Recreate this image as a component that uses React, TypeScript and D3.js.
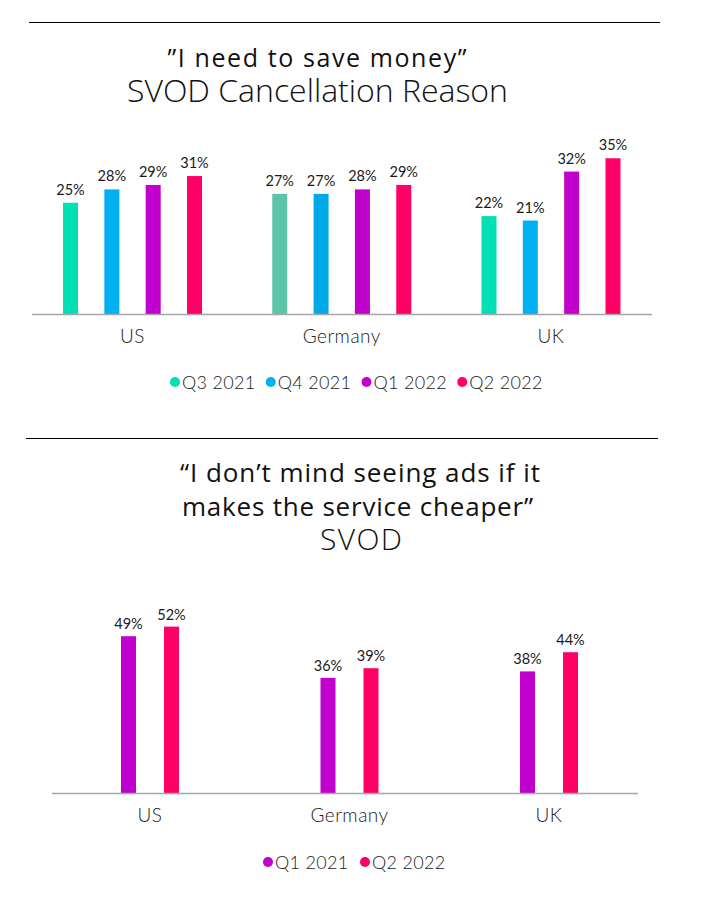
import React from "react";
import * as d3 from "d3";

const countries = ["US", "Germany", "UK"];

const topSeries = ["Q3 2021", "Q4 2021", "Q1 2022", "Q2 2022"];
const topValues: number[][] = [
  [25, 28, 29, 31], // US
  [27, 27, 28, 29], // Germany
  [22, 21, 32, 35], // UK
];
const topColors = ["#00E0B4", "#00B0F0", "#C000CC", "#FF0066"];
const colorOverrides: Record<string, string> = { "Germany|Q3 2021": "#5CC4A9", "Germany|Q4 2021": "#00AAE6" };

const bottomSeries = ["Q1 2021", "Q2 2022"];
const bottomValues: number[][] = [
  [49, 52],
  [36, 39],
  [38, 44],
];
const bottomColors = ["#C000CC", "#FF0066"];

const topTitle = ["\u201DI need to save money\u201D", "SVOD Cancellation Reason"];
const bottomTitle = ["\u201CI don\u2019t mind seeing ads if it", "makes the service cheaper\u201D", "SVOD"];

const FONT = "Lato, 'Open Sans', sans-serif";
const TFONT = "'Open Sans', Lato, sans-serif";

function BarGroup(props: {
  series: string[];
  values: number[][];
  colors: string[];
  x0: [number, number];
  span: number;
  padInner: number;
  y: d3.ScaleLinear<number, number>;
  baseline: number;
  axisX: [number, number];
  labelGap: number;
  catY: number;
}) {
  const { series, values, colors, x0, span, padInner, y, baseline, axisX, labelGap, catY } = props;
  const outer = d3.scaleBand<string>().domain(countries).range(x0).padding(0);
  const inner = d3
    .scaleBand<string>()
    .domain(series)
    .range([-span / 2, span / 2])
    .paddingInner(padInner)
    .paddingOuter(0);
  return (
    <g>
      {countries.map((c, ci) => {
        const cx = (outer(c) as number) + outer.bandwidth() / 2;
        return (
          <g key={c}>
            {series.map((s, si) => {
              const v = values[ci][si];
              const bx = cx + (inner(s) as number);
              const top = y(v);
              const col = colorOverrides[c + "|" + s] || colors[si];
              return (
                <g key={s}>
                  <rect x={bx} y={top} width={inner.bandwidth()} height={baseline - top} fill={col} />
                  <text
                    x={bx + inner.bandwidth() / 2}
                    y={top - labelGap}
                    textAnchor="middle"
                    fontSize={14.5}
                    fontFamily={FONT}
                    fill="#1a1a1a"
                  >
                    {v}%
                  </text>
                </g>
              );
            })}
            <text x={cx} y={catY} textAnchor="middle" fontSize={19} letterSpacing={0.5} fontFamily={FONT} fontWeight={300} fill="#222">
              {c}
            </text>
          </g>
        );
      })}
      <line x1={axisX[0]} x2={axisX[1]} y1={baseline + 0.5} y2={baseline + 0.5} stroke="#A6A6A6" strokeWidth={1.5} />
    </g>
  );
}

function Legend(props: { series: string[]; colors: string[]; range: [number, number]; y: number }) {
  const { series, colors, range, y } = props;
  const lx = d3.scaleBand<string>().domain(series).range(range).padding(0);
  return (
    <g>
      {series.map((s, i) => {
        const x = lx(s) as number;
        return (
          <g key={s}>
            <circle cx={x} cy={y} r={5} fill={colors[i]} />
            <text x={x + 7} y={y + 6.5} fontSize={18} letterSpacing={0.3} fontFamily={FONT} fontWeight={300} fill="#222">
              {s}
            </text>
          </g>
        );
      })}
    </g>
  );
}

export default function App() {
  const yTop = d3.scaleLinear().domain([0, 40]).range([314, 314 - 178]);
  const yBot = d3.scaleLinear().domain([0, 60]).range([793, 793 - 192]);
  return (
    <svg
      width={706}
      height={902}
      style={{ position: "absolute", left: 0, top: 0, background: "#fff" }}
    >
      <line x1={29} x2={660} y1={22.5} y2={22.5} stroke="#000" strokeWidth={1} />
      <text x={317} y={67} textAnchor="middle" fontSize={25} fontFamily={TFONT} fontWeight={500} fill="#111"
        textLength={299} lengthAdjust="spacing">
        {topTitle[0]}
      </text>
      <text x={317.5} y={102} textAnchor="middle" fontSize={32} fontFamily={TFONT} fontWeight={300} fill="#111"
        textLength={381} lengthAdjust="spacing">
        {topTitle[1]}
      </text>

      <BarGroup
        series={topSeries}
        values={topValues}
        colors={topColors}
        x0={[27.9, 655.6]}
        span={139}
        padInner={0.637}
        y={yTop}
        baseline={314}
        axisX={[32, 652]}
        labelGap={8}
        catY={343}
      />
      <Legend series={topSeries} colors={topColors} range={[175, 558]} y={382} />

      <line x1={26} x2={658} y1={438.5} y2={438.5} stroke="#000" strokeWidth={1} />
      <text x={360} y={482} textAnchor="middle" fontSize={26} fontFamily={TFONT} fontWeight={500} fill="#111"
        textLength={360} lengthAdjust="spacing">
        {bottomTitle[0]}
      </text>
      <text x={357.5} y={516} textAnchor="middle" fontSize={26} fontFamily={TFONT} fontWeight={500} fill="#111"
        textLength={351} lengthAdjust="spacing">
        {bottomTitle[1]}
      </text>
      <text x={361} y={550} textAnchor="middle" fontSize={30} fontFamily={TFONT} fontWeight={300} fill="#111"
        textLength={82} lengthAdjust="spacing">
        {bottomTitle[2]}
      </text>

      <BarGroup
        series={bottomSeries}
        values={bottomValues}
        colors={bottomColors}
        x0={[50.25, 648.75]}
        span={58}
        padInner={0.651}
        y={yBot}
        baseline={793}
        axisX={[52, 638]}
        labelGap={7}
        catY={822}
      />
      <Legend series={bottomSeries} colors={bottomColors} range={[268, 462]} y={862} />
    </svg>
  );
}
